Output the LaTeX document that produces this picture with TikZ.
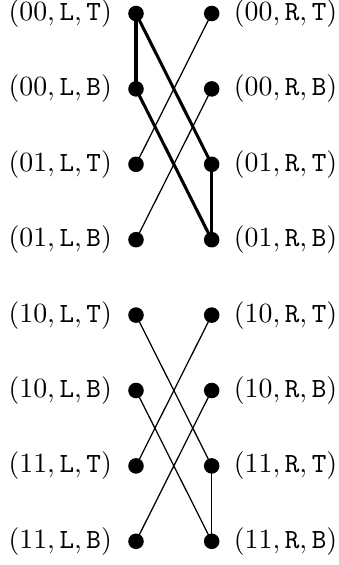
\documentclass[tikz,border=0pt]{standalone}
\begin{document}
\begin{tikzpicture}[x=0.36pt,y=-0.36pt,
  dot/.style={circle,fill=black,inner sep=0pt,minimum size=5.6pt},
  lab/.style={inner sep=0pt,font=\fontsize{10.25}{12.5}\selectfont},
  thin edge/.style={line width=0.45pt},
  thick edge/.style={line width=1.1pt}]
\useasboundingbox (0,0) rectangle (339,565);
\foreach \i/\g/\s in {0/00/T,1/00/B,2/01/T,3/01/B,4/10/T,5/10/B,6/11/T,7/11/B}{
  \pgfmathsetmacro{\yy}{13.5+75.4*\i}
  \node[dot] (L\i) at (136,\yy) {};
  \node[dot] (R\i) at (211.7,\yy) {};
  \node[lab,anchor=east] (LL\i) at ([xshift=-8.5pt]L\i.center) {$(\g,\mathtt{L},\mathtt{\s})$};
  \node[lab,anchor=west] (RL\i) at ([xshift=7.8pt]R\i.center) {$(\g,\mathtt{R},\mathtt{\s})$};
}
\draw[thick edge] (L0.center) -- (L1.center);
\draw[thick edge] (L0.center) -- (R2.center);
\draw[thick edge] (L1.center) -- (R3.center);
\draw[thick edge] (R2.center) -- (R3.center);
\draw[thin edge] (R0.center) -- (L2.center);
\draw[thin edge] (R1.center) -- (L3.center);
\draw[thin edge] (L4.center) -- (R6.center);
\draw[thin edge] (R4.center) -- (L6.center);
\draw[thin edge] (L5.center) -- (R7.center);
\draw[thin edge] (R5.center) -- (L7.center);
\draw[thin edge] (R6.center) -- (R7.center);
\end{tikzpicture}
\end{document}
